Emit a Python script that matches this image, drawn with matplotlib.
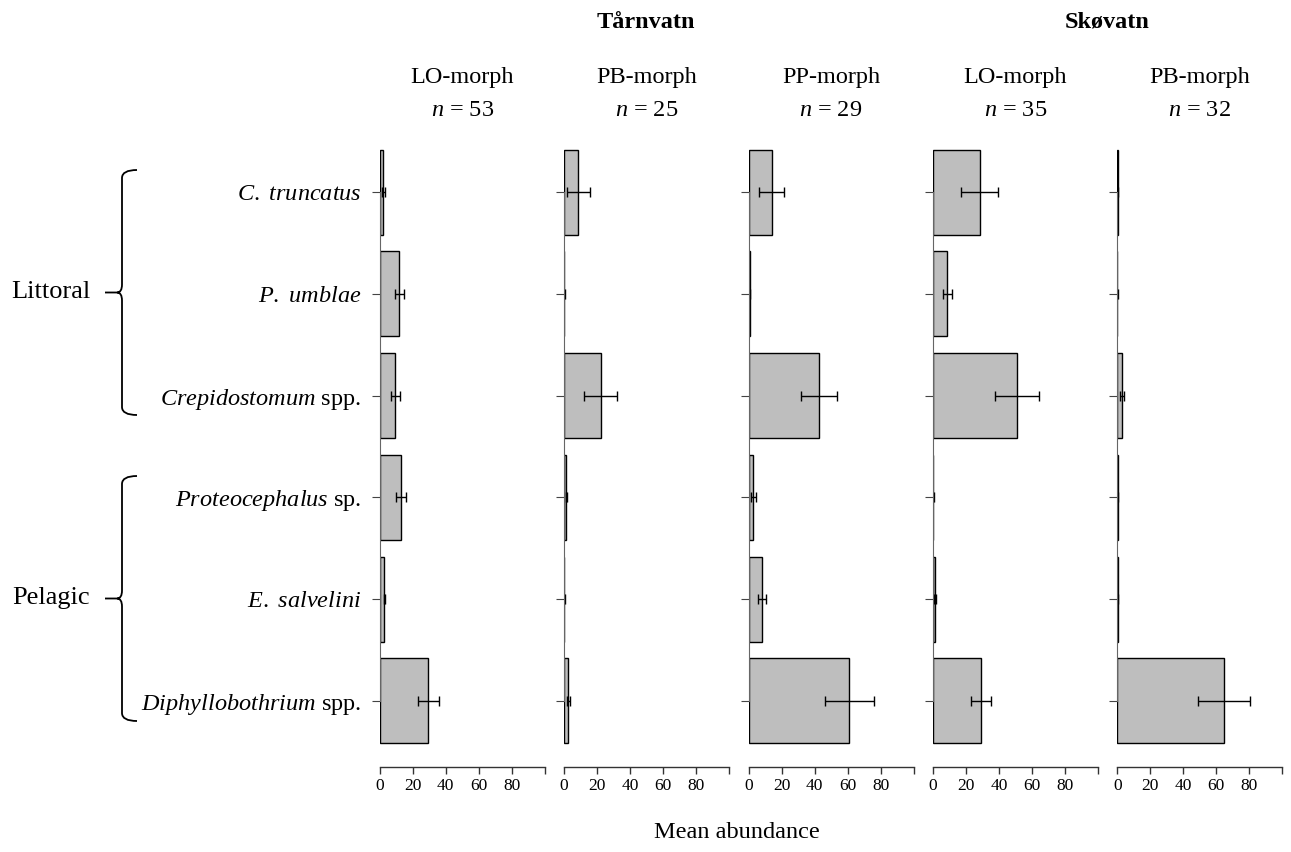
import matplotlib
matplotlib.use("Agg")
import matplotlib.pyplot as plt
from matplotlib.path import Path
from matplotlib.patches import PathPatch

plt.rcParams["font.family"] = ["Liberation Serif", "DejaVu Serif"]
plt.rcParams["mathtext.fontset"] = "custom"
plt.rcParams["mathtext.rm"] = "Liberation Serif"
plt.rcParams["mathtext.it"] = "Liberation Serif:italic"

# parasite taxa, top to bottom
taxa = [r"$\mathit{C.}$ $\mathit{truncatus}$", r"$\mathit{P.}$ $\mathit{umblae}$",
        r"$\mathit{Crepidostomum}$ spp.", r"$\mathit{Proteocephalus}$ sp.",
        r"$\mathit{E.}$ $\mathit{salvelini}$", r"$\mathit{Diphyllobothrium}$ spp."]

lakes = ["Tårnvatn", "Skøvatn"]
morphs = ["LO-morph", "PB-morph", "PP-morph", "LO-morph", "PB-morph"]
n_fish = [53, 25, 29, 35, 32]

# mean abundance and standard error per morph (same order as taxa)
tarn_lo = [2.2, 11.9, 9.5, 12.7, 2.8, 29.5]
tarn_lo_se = [1.0, 2.7, 2.7, 3.0, 0.4, 6.4]
tarn_pb = [8.7, 0.2, 22.1, 1.4, 0.2, 2.6]
tarn_pb_se = [6.8, 0.2, 10.0, 0.5, 0.2, 1.1]
tarn_pp = [14.0, 0.8, 42.5, 3.0, 8.1, 61.1]
tarn_pp_se = [7.5, 0.4, 10.9, 1.6, 2.5, 15.0]
skov_lo = [28.3, 8.7, 51.2, 0.3, 1.4, 29.0]
skov_lo_se = [11.0, 2.6, 13.4, 0.3, 0.6, 6.0]
skov_pb = [0.4, 0.1, 2.6, 0.3, 0.2, 64.6]
skov_pb_se = [0.3, 0.05, 1.2, 0.3, 0.1, 15.7]

means = [tarn_lo, tarn_pb, tarn_pp, skov_lo, skov_pb]
errs = [tarn_lo_se, tarn_pb_se, tarn_pp_se, skov_lo_se, skov_pb_se]

xticks = [0, 20, 40, 60, 80, 100]
xticklabels = ["0", "20", "40", "60", "80", ""]

W, H = 1291, 852
fig = plt.figure(figsize=(W / 100, H / 100), dpi=100)


def fx(px):
    return px / W


def fy(py):
    return 1 - py / H


# barplot-style layout: bar width 1, gap 0.2
ypos = [0.7 + 1.2 * i for i in range(len(taxa))]
panel_left = [379.7 + 184.4 * i for i in range(5)]
panel_w, top_px, bot_px = 165, 126, 767
FS = 17.5

for i, x0 in enumerate(panel_left):
    ax = fig.add_axes([fx(x0), fy(bot_px), fx(panel_w), (bot_px - top_px) / H])
    ax.barh(ypos, means[i], height=1.0, color="#bebebe", edgecolor="black", linewidth=1.0)
    ax.errorbar(means[i], ypos, xerr=errs[i], fmt="none", ecolor="black",
                elinewidth=1.0, capsize=3.5, capthick=1.0)
    ax.set_xlim(0, 100)
    ax.set_ylim(7.48, -0.08)
    for s in ["top", "right"]:
        ax.spines[s].set_visible(False)
    ax.spines["left"].set_bounds(ypos[0], ypos[-1])
    ax.spines["bottom"].set_bounds(0, 100)
    ax.spines["left"].set_color("#666666")
    ax.spines["bottom"].set_color("#333333")
    ax.spines["left"].set_linewidth(0.8)
    ax.spines["bottom"].set_linewidth(1.0)
    ax.set_xticks(xticks)
    ax.set_xticklabels(xticklabels, fontsize=12.5)
    ax.tick_params(axis="x", length=5, width=1.0, color="#333333", pad=3)
    ax.set_yticks(ypos)
    ax.tick_params(axis="y", length=6, width=0.8, color="#444444")
    if i == 0:
        ax.set_yticklabels(taxa, fontsize=FS)
        ax.tick_params(axis="y", pad=7)
    else:
        ax.set_yticklabels([])
    cx = x0 + panel_w / 2
    fig.text(fx(cx), fy(78), morphs[i], ha="center", va="center", fontsize=FS)
    fig.text(fx(cx), fy(111), rf"$n$ = {n_fish[i]}", ha="center", va="center", fontsize=FS)

# lake names over their morph groups
fig.text(fx(646), fy(22), lakes[0], ha="center", va="center", fontsize=FS, fontweight="bold")
fig.text(fx(1107), fy(22), lakes[1], ha="center", va="center", fontsize=FS, fontweight="bold")

fig.text(fx(737), fy(832), "Mean abundance", ha="center", va="center", fontsize=FS)


def brace(top, bottom, x=122, hook=15, tip=17):
    mid = (top + bottom) / 2
    pts = [(x + hook, top), (x, top), (x, top + 8),
           (x, mid - 8), (x, mid), (x - 5, mid),
           (x - tip, mid),
           (x - 5, mid), (x, mid), (x, mid + 8),
           (x, bottom - 8), (x, bottom), (x + hook, bottom)]
    codes = [Path.MOVETO, Path.CURVE3, Path.CURVE3,
             Path.LINETO, Path.CURVE3, Path.CURVE3,
             Path.LINETO,
             Path.MOVETO, Path.CURVE3, Path.CURVE3,
             Path.LINETO, Path.CURVE3, Path.CURVE3]
    verts = [(fx(a), fy(b)) for a, b in pts]
    fig.patches.append(PathPatch(Path(verts, codes), transform=fig.transFigure,
                                 facecolor="none", edgecolor="black", linewidth=1.3))


brace(170, 415)
brace(476, 721)
fig.text(fx(90), fy(292), "Littoral", ha="right", va="center", fontsize=19)
fig.text(fx(90), fy(598), "Pelagic", ha="right", va="center", fontsize=19)

fig.savefig("out.png", dpi=100)
